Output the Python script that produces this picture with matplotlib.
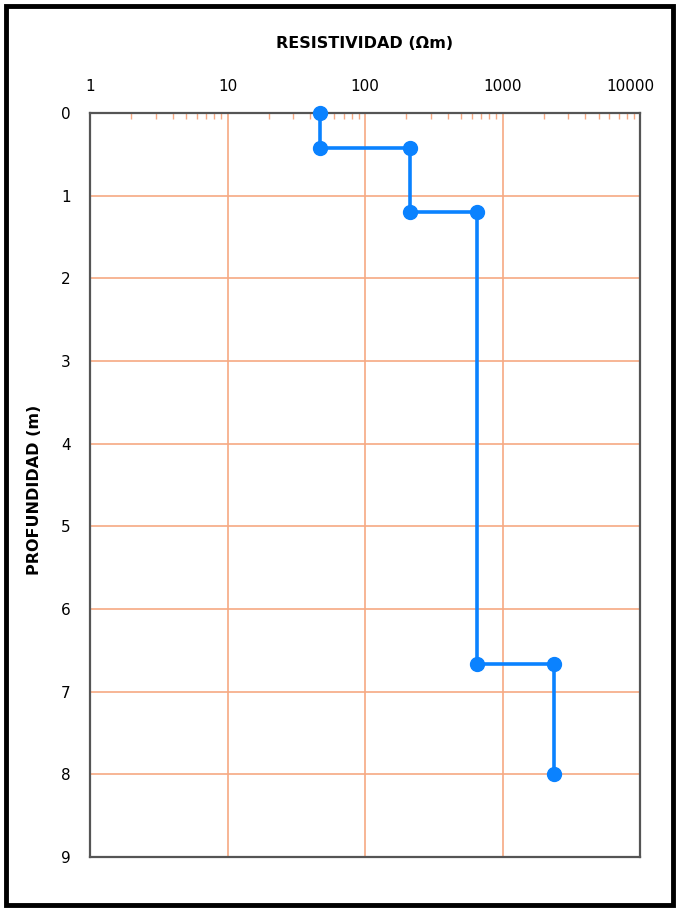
import matplotlib
matplotlib.use("Agg")
import matplotlib.pyplot as plt
import matplotlib.transforms as mtrans
from matplotlib.patches import Rectangle
from matplotlib.ticker import LogLocator, NullFormatter, FixedLocator

plt.rcParams['font.family'] = ['DejaVu Sans']

# Data
resistivity = [47, 47, 212, 212, 652, 652, 2370, 2370]
depth = [0.0, 0.42, 0.42, 1.20, 1.20, 6.66, 6.66, 8.0]
x_ticks = [1, 10, 100, 1000, 10000]
x_tick_labels = ["1", "10", "100", "1000", "10000"]
y_ticks = [0, 1, 2, 3, 4, 5, 6, 7, 8, 9]

W, H = 679, 911
fig = plt.figure(figsize=(W / 100, H / 100), dpi=100)
ax = fig.add_axes([90 / W, 1 - 857 / H, 550 / W, 744 / H])

grid_c = '#F6A983'
line_c = '#0A82FF'

ax.plot(resistivity, depth, color=line_c, lw=2.6, marker='o', ms=10,
        zorder=5, clip_on=False)

ax.set_xscale('log')
ax.set_xlim(1, 10000)
ax.set_ylim(9, 0)

ax.xaxis.tick_top()
ax.xaxis.set_label_position('top')
ax.xaxis.set_major_locator(FixedLocator(x_ticks))
ax.set_xticklabels(x_tick_labels)
ax.xaxis.set_minor_locator(LogLocator(base=10, subs=range(2, 10)))
ax.xaxis.set_minor_formatter(NullFormatter())
ax.tick_params(axis='x', which='major', length=0, pad=14, labelsize=11)
ax.tick_params(axis='x', which='minor', direction='in', length=4,
               color=grid_c, width=1, top=True, bottom=False)
offset = mtrans.ScaledTranslation(-10 / 100, 0, fig.dpi_scale_trans)
lab = ax.get_xticklabels()[-1]
lab.set_transform(lab.get_transform() + offset)

ax.set_yticks(y_ticks)
ax.tick_params(axis='y', length=0, pad=14, labelsize=11)

ax.grid(True, which='major', color=grid_c, lw=1.2)
ax.set_axisbelow(True)

for s in ax.spines.values():
    s.set_color('#555555')
    s.set_linewidth(1.6)

ax.set_xlabel('RESISTIVIDAD (Ωm)', fontsize=11.5, fontweight='heavy')
ax.xaxis.set_label_coords(0.5, (857 - 48) / 744)
ax.set_ylabel('PROFUNDIDAD (m)', fontsize=11.5, fontweight='heavy')
ax.yaxis.set_label_coords(-48 / 550, (857 - 490) / 744)

fig.patches.append(Rectangle((6 / W, 6 / H), 1 - 12 / W, 1 - 12 / H,
                             transform=fig.transFigure, fill=False,
                             edgecolor='black', lw=3.5))

fig.savefig('out.png', dpi=100)
